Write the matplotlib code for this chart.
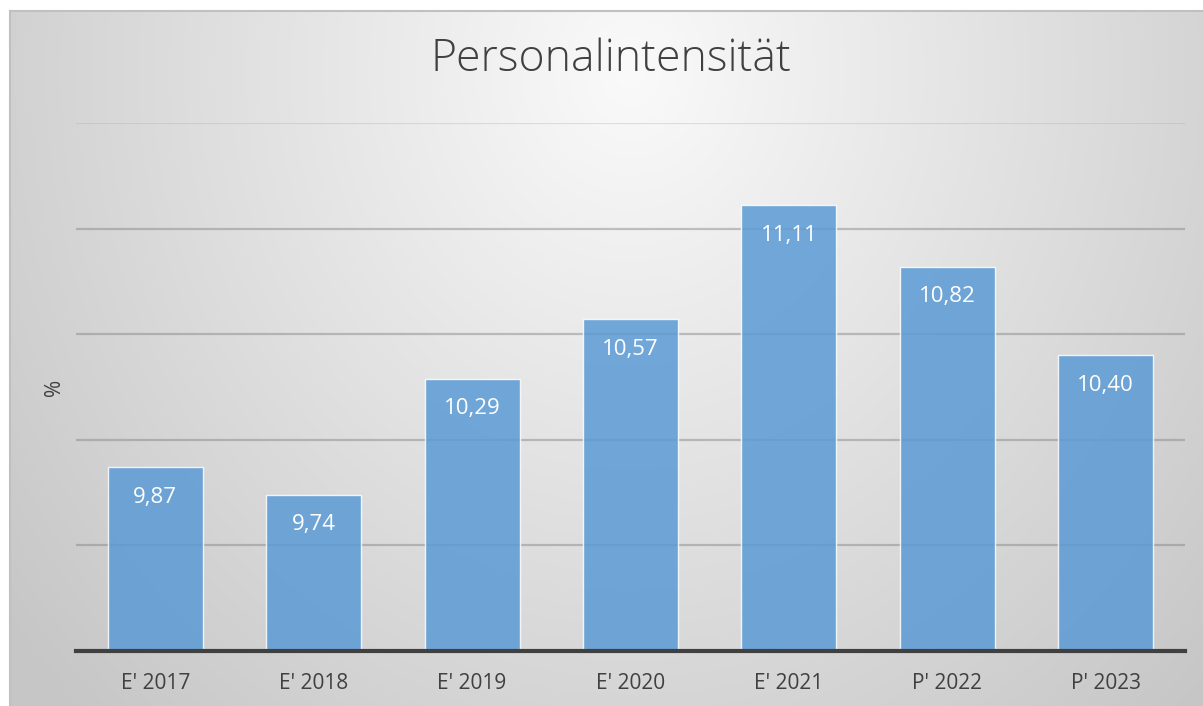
import numpy as np
import matplotlib.pyplot as plt

# Daten
kategorien = ["E' 2017", "E' 2018", "E' 2019", "E' 2020", "E' 2021", "P' 2022", "P' 2023"]
werte = [9.87, 9.74, 10.29, 10.57, 11.11, 10.82, 10.40]
beschriftungen = ["9,87", "9,74", "10,29", "10,57", "11,11", "10,82", "10,40"]

plt.rcParams['font.family'] = ['Open Sans', 'DejaVu Sans']

W, H = 1203, 706
fig = plt.figure(figsize=(W / 100, H / 100), dpi=100)
fig.patch.set_facecolor('white')

# Hintergrund mit radialem Verlauf
bg = fig.add_axes([10 / W, 0, (W - 10) / W, (H - 11) / H])
yy, xx = np.mgrid[0:695, 0:1193]
cx, cy = 620, 60
d = np.sqrt(((xx - cx) / 800) ** 2 + ((yy - cy) / 900) ** 2)
d = np.clip(d, 0, 1)
grau = (250 - 52 * d) / 255
bg.imshow(np.dstack([grau, grau, grau]), aspect='auto', extent=[0, 1, 0, 1], origin='upper')
bg.set_xlim(0, 1)
bg.set_ylim(0, 1)
bg.set_xticks([])
bg.set_yticks([])
for s in ['top', 'left']:
    bg.spines[s].set_color('#c0c0c0')
    bg.spines[s].set_linewidth(1.5)
for s in ['right', 'bottom']:
    bg.spines[s].set_visible(False)

# Diagramm
ax = fig.add_axes([76 / W, (H - 651) / H, 1109 / W, 528 / H])
ax.patch.set_alpha(0)
x = np.arange(len(kategorien))
ax.bar(x, werte, width=0.6, color='#5b9bd5', alpha=0.85, edgecolor=(1, 1, 1, 0.35),
       linewidth=1.0, zorder=3)
ax.set_xlim(-0.5, len(kategorien) - 0.5)
ax.set_ylim(9, 11.5)
ax.set_yticks([9.5, 10, 10.5, 11])
ax.yaxis.grid(True, color='#808080', alpha=0.45, linewidth=1.6, zorder=1)
ax.axhline(11.5, color='#b0b0b0', alpha=0.35, linewidth=1.6, zorder=1)
ax.tick_params(axis='y', length=0, labelleft=False)
ax.tick_params(axis='x', length=0, pad=16, labelsize=15, labelcolor='#404040')
ax.set_xticks(x)
ax.set_xticklabels(kategorien)
for s in ['top', 'left', 'right']:
    ax.spines[s].set_visible(False)
ax.spines['bottom'].set_color('#404040')
ax.spines['bottom'].set_linewidth(3)
ax.spines['bottom'].set_zorder(4)

for xi, wert, txt in zip(x, werte, beschriftungen):
    ax.annotate(txt, (xi, wert), xytext=(0, -14), textcoords='offset points',
                ha='center', va='top', color='white', fontsize=16, zorder=5)

ax.set_ylabel('%', fontsize=15, color='#404040', labelpad=8)

fig.text(611 / W, 1 - 60 / H, 'Personalintensität', ha='center', va='center',
         fontsize=32, color='#404040', fontweight='light')

fig.savefig('out.png', dpi=100)
